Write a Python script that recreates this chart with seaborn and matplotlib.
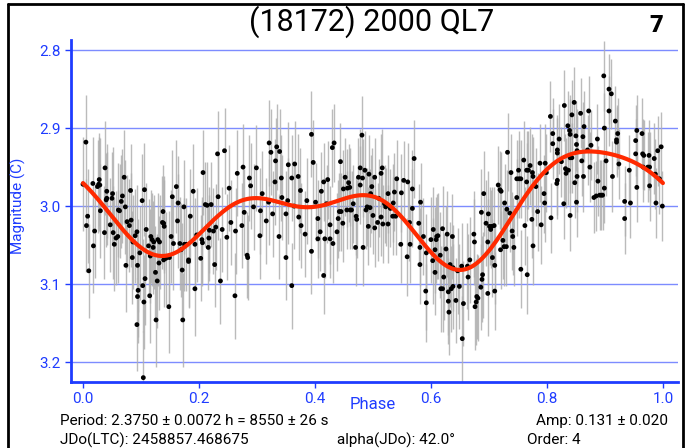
import numpy as np
import pandas as pd
import seaborn as sns
import matplotlib
matplotlib.use("Agg")
import matplotlib.pyplot as plt
from matplotlib.lines import Line2D

# ---- folded photometry: phase and reduced magnitude ----
phase_a = [0.000, 0.005, 0.006, 0.008, 0.010, 0.017, 0.018, 0.020, 0.025, 0.027, 0.028, 0.029, 0.030,
           0.037, 0.038, 0.041, 0.040, 0.041, 0.047, 0.050, 0.051, 0.052, 0.054, 0.057, 0.060, 0.061,
           0.063, 0.066, 0.068, 0.071, 0.073, 0.074, 0.076, 0.080, 0.082, 0.083, 0.086, 0.085, 0.090,
           0.093, 0.094, 0.094, 0.095, 0.093, 0.098, 0.102, 0.103, 0.105, 0.106, 0.107, 0.109, 0.113,
           0.115, 0.116, 0.117, 0.119, 0.121, 0.122, 0.125, 0.126, 0.128, 0.129, 0.131, 0.132, 0.138,
           0.137, 0.139, 0.140, 0.139, 0.143, 0.149, 0.148, 0.154, 0.152, 0.156, 0.161, 0.164, 0.163,
           0.167, 0.169, 0.171, 0.172, 0.174, 0.175, 0.178, 0.182, 0.182, 0.185, 0.104]
mag_a = [2.972, 2.918, 3.025, 3.013, 3.083, 2.971, 3.051, 3.032, 2.975, 2.972, 2.966, 2.973, 3.006,
         3.034, 2.951, 2.981, 2.992, 2.990, 3.024, 2.990, 2.984, 3.034, 3.049, 3.041, 3.039, 3.005,
         3.006, 2.994, 2.987, 2.963, 3.001, 3.076, 3.020, 3.025, 2.980, 3.018, 3.046, 3.066, 3.038,
         3.033, 3.076, 3.116, 3.108, 3.152, 3.060, 2.993, 3.102, 3.123, 2.979, 3.093, 3.030, 3.051,
         3.115, 3.064, 3.039, 3.043, 3.053, 3.046, 3.085, 3.146, 3.096, 3.043, 3.073, 3.046, 3.007,
         3.021, 3.022, 3.026, 3.069, 3.067, 3.066, 3.129, 2.988, 3.039, 3.048, 2.975, 2.996, 3.019,
         3.048, 3.056, 3.082, 3.146, 3.001, 3.049, 3.049, 3.069, 3.071, 3.013, 3.220]

phase_b = [0.190, 0.193, 0.193, 0.196, 0.203, 0.205, 0.206, 0.207, 0.211, 0.214, 0.216, 0.217, 0.218,
           0.221, 0.225, 0.227, 0.229, 0.232, 0.233, 0.237, 0.240, 0.244, 0.248, 0.252, 0.255, 0.262,
           0.263, 0.266, 0.274, 0.276, 0.278, 0.283, 0.284, 0.287, 0.289, 0.294, 0.299, 0.305, 0.306,
           0.309, 0.316, 0.320, 0.321, 0.324, 0.327, 0.331, 0.332, 0.334, 0.338, 0.339, 0.342, 0.343,
           0.350, 0.350, 0.353, 0.354, 0.360, 0.360, 0.365, 0.364, 0.371, 0.372, 0.375, 0.376, 0.383,
           0.386]
mag_b = [2.981, 3.049, 3.106, 3.037, 3.067, 3.043, 3.047, 2.957, 2.998, 2.999, 3.053, 3.041, 3.031,
         2.998, 3.032, 3.075, 3.027, 2.933, 2.988, 3.096, 3.030, 2.929, 3.040, 2.977, 3.021, 3.115,
         3.032, 2.958, 3.025, 2.950, 3.008, 3.063, 3.066, 2.964, 2.974, 3.001, 2.951, 3.038, 3.006,
         2.984, 3.019, 2.995, 2.919, 2.931, 3.010, 2.969, 2.942, 2.924, 3.039, 2.930, 2.964, 2.989,
         3.010, 3.066, 2.993, 2.947, 3.102, 2.964, 2.946, 3.000, 2.962, 3.014, 2.980, 3.025, 3.036,
         2.993]

phase_c = [0.394, 0.394, 0.397, 0.401, 0.405, 0.405, 0.409, 0.411, 0.415, 0.415, 0.417, 0.420, 0.422,
           0.426, 0.426, 0.430, 0.431, 0.433, 0.438, 0.440, 0.442, 0.444, 0.445, 0.448, 0.449, 0.452,
           0.455, 0.456, 0.458, 0.460, 0.461, 0.463, 0.466, 0.470, 0.471, 0.472, 0.475, 0.478, 0.478,
           0.481, 0.482, 0.483, 0.486, 0.488, 0.490, 0.492, 0.493, 0.495, 0.496, 0.498, 0.500, 0.503,
           0.503, 0.508, 0.510, 0.514, 0.514, 0.516, 0.517, 0.520, 0.522, 0.526, 0.526, 0.530, 0.534,
           0.535, 0.537, 0.539, 0.541, 0.548, 0.549, 0.553, 0.559, 0.560, 0.563, 0.564, 0.568, 0.568,
           0.571, 0.579, 0.581, 0.581, 0.582, 0.587, 0.592, 0.591, 0.592]
mag_c = [2.908, 3.058, 2.944, 2.995, 3.016, 3.042, 3.033, 2.981, 3.089, 2.969, 3.042, 2.997, 2.966,
         3.024, 3.042, 2.925, 3.048, 2.919, 3.033, 3.016, 3.007, 2.943, 3.007, 3.022, 2.978, 2.963,
         3.005, 2.977, 2.970, 2.976, 3.005, 3.005, 2.997, 3.053, 3.013, 3.017, 2.963, 2.973, 2.951,
         2.909, 2.964, 3.053, 2.954, 3.005, 3.001, 3.026, 2.959, 3.002, 2.984, 2.975, 3.012, 3.028,
         2.963, 3.021, 2.990, 2.958, 3.014, 2.951, 3.023, 2.997, 3.001, 3.023, 2.984, 3.003, 3.013,
         2.996, 2.982, 3.013, 2.965, 3.049, 2.983, 2.967, 3.065, 2.969, 3.021, 3.049, 2.978, 3.003,
         2.939, 3.022, 3.053, 3.075, 2.995, 3.039, 3.060, 3.109, 3.124]

phase_d = [0.600, 0.603, 0.604, 0.607, 0.607, 0.609, 0.610, 0.612, 0.616, 0.617, 0.620, 0.620, 0.622,
           0.626, 0.628, 0.630, 0.631, 0.630, 0.633, 0.635, 0.637, 0.638, 0.638, 0.643, 0.646, 0.649,
           0.653, 0.654, 0.656, 0.663, 0.664, 0.667, 0.674, 0.675, 0.676, 0.678, 0.679, 0.681, 0.686,
           0.687, 0.688, 0.689, 0.691, 0.695, 0.698, 0.698, 0.699, 0.701, 0.703, 0.705, 0.706, 0.709,
           0.710, 0.710, 0.716, 0.719, 0.721, 0.720, 0.724, 0.726, 0.727, 0.730, 0.732, 0.731, 0.736,
           0.738, 0.740, 0.741, 0.743, 0.748, 0.748, 0.751, 0.752, 0.755, 0.755, 0.760, 0.762, 0.765,
           0.766, 0.765, 0.768, 0.771, 0.774, 0.775, 0.776, 0.776, 0.781, 0.784, 0.788, 0.790, 0.795,
           0.796, 0.797]
mag_d = [3.043, 3.070, 3.030, 3.056, 3.085, 3.043, 3.039, 3.038, 3.063, 3.106, 3.106, 3.029, 3.091,
         3.055, 3.036, 3.110, 3.136, 3.122, 3.075, 3.106, 3.039, 3.079, 3.103, 3.121, 3.083, 3.103,
         3.077, 3.170, 3.125, 3.077, 3.091, 3.069, 3.036, 3.046, 3.129, 3.123, 3.116, 3.118, 3.104,
         3.008, 3.094, 3.088, 2.984, 3.022, 3.046, 3.112, 3.010, 3.026, 3.030, 3.026, 3.066, 3.025,
         3.076, 3.109, 2.973, 2.979, 2.981, 3.056, 3.044, 3.052, 2.996, 3.052, 2.931, 3.004, 3.009,
         2.957, 3.032, 3.039, 3.053, 2.989, 2.965, 2.954, 2.965, 2.965, 3.081, 2.941, 3.025, 2.954,
         3.088, 2.969, 2.954, 2.948, 3.017, 2.957, 2.962, 3.051, 2.975, 3.007, 2.945, 3.024, 2.984,
         2.996, 2.945]

phase_e = [0.799, 0.806, 0.807, 0.810, 0.810, 0.817, 0.818, 0.818, 0.818, 0.821, 0.825, 0.829, 0.830,
           0.832, 0.833, 0.836, 0.837, 0.839, 0.840, 0.840, 0.840, 0.843, 0.843, 0.847, 0.848, 0.850,
           0.851, 0.851, 0.852, 0.852, 0.858, 0.860, 0.862, 0.863, 0.864, 0.870, 0.872, 0.874, 0.876,
           0.881, 0.885, 0.887, 0.888, 0.891, 0.894, 0.896, 0.898, 0.899, 0.899, 0.902, 0.907, 0.907,
           0.911, 0.913, 0.918, 0.920, 0.920, 0.922, 0.924, 0.934, 0.934, 0.942, 0.944, 0.953, 0.953,
           0.955, 0.955, 0.964, 0.965, 0.966, 0.967, 0.974, 0.976, 0.977, 0.977, 0.985, 0.987, 0.988,
           0.991, 0.994, 0.997, 0.999]
mag_e = [2.957, 2.885, 3.015, 2.920, 2.907, 2.971, 2.928, 2.967, 2.932, 2.914, 2.943, 2.997, 2.871,
         2.952, 2.958, 2.897, 2.954, 2.903, 2.908, 2.938, 3.012, 2.883, 2.938, 2.867, 2.970, 2.910,
         2.921, 2.995, 2.929, 2.962, 2.881, 2.942, 2.911, 2.962, 2.898, 2.928, 2.878, 2.950, 2.922,
         2.989, 2.987, 2.914, 2.968, 2.986, 2.986, 2.986, 2.833, 2.900, 2.977, 2.942, 2.850, 2.878,
         2.856, 2.962, 2.891, 2.918, 2.915, 2.907, 2.946, 2.994, 3.016, 2.954, 2.996, 2.916, 2.933,
         2.903, 2.976, 2.907, 2.933, 2.950, 2.935, 2.950, 2.935, 2.974, 2.950, 2.939, 2.959, 2.996,
         2.929, 2.965, 2.924, 3.000]

# typical 1-sigma error per tenth of the rotation phase
err_by_tenth = [0.060, 0.060, 0.055, 0.055, 0.050, 0.050, 0.055, 0.050, 0.045, 0.045]

fourier_order = 4
title = "(18172) 2000 QL7"

phase = np.array(phase_a + phase_b + phase_c + phase_d + phase_e)
mag = np.array(mag_a + mag_b + mag_c + mag_d + mag_e)
err = np.array(err_by_tenth)[np.clip((phase * 10).astype(int), 0, 9)]
df = pd.DataFrame({"phase": phase, "mag": mag, "err": err})

# Fourier series fit of the folded curve
def design(p, order):
    cols = [np.ones_like(p)]
    for k in range(1, order + 1):
        cols.append(np.cos(2 * np.pi * k * p))
        cols.append(np.sin(2 * np.pi * k * p))
    return np.column_stack(cols)

coef, *_ = np.linalg.lstsq(design(phase, fourier_order), mag, rcond=None)
grid = np.linspace(0, 1, 400)
fit = pd.DataFrame({"phase": grid, "mag": design(grid, fourier_order) @ coef})

# ---- figure ----
sns.set_theme(style="white")
plt.rcParams["font.family"] = ["Roboto", "DejaVu Sans"]
plt.rcParams["text.color"] = "black"

W, H = 694, 448
fig = plt.figure(figsize=(W / 100, H / 100), dpi=100)
ax = fig.add_axes([71 / W, 1 - 382 / H, (678 - 71) / W, (382 - 40) / H])

blue = "#1f3cff"
grid_blue = "#7d8cff"

ax.vlines(df["phase"], df["mag"] - df["err"], df["mag"] + df["err"],
          colors="#b0b0b0", linewidth=1.0, alpha=0.85, zorder=2)
sns.scatterplot(data=df, x="phase", y="mag", ax=ax, color="black", s=12,
                edgecolor="none", zorder=3, legend=False)
sns.lineplot(data=fit, x="phase", y="mag", ax=ax, color="#ff2a00",
             linewidth=3, zorder=4)

ax.set_xlim(-0.0207, 1.026)
ax.set_ylim(3.2256, 2.787)
ax.set_yticks([2.8, 2.9, 3.0, 3.1, 3.2])
ax.set_xticks([0.0, 0.2, 0.4, 0.6, 0.8, 1.0])
ax.set_yticklabels(["2.8", "2.9", "3.0", "3.1", "3.2"])
ax.set_xticklabels(["0.0", "0.2", "0.4", "0.6", "0.8", "1.0"])
ax.yaxis.grid(True, color=grid_blue, linewidth=1.0)
ax.xaxis.grid(False)
ax.set_axisbelow(True)
ax.set_xlabel("")
ax.set_ylabel("")

for side in ("top", "right"):
    ax.spines[side].set_visible(False)
for side in ("left", "bottom"):
    ax.spines[side].set_color(blue)
    ax.spines[side].set_linewidth(2)
ax.tick_params(axis="both", colors=blue, labelcolor=blue, labelsize=11,
               length=4, width=1, direction="out", left=True, bottom=True)
ax.tick_params(axis="x", pad=3)

fig.text(18 / W, 1 - 206 / H, "Magnitude (C)", rotation=90, color=blue,
         fontsize=11, ha="center", va="center")
fig.text(373 / W, 1 - 404 / H, "Phase", color=blue, fontsize=12,
         ha="center", va="center")

fig.text(372 / W, 1 - 22 / H, title, fontsize=22, color="black",
         ha="center", va="center")
fig.text(663 / W, 1 - 25 / H, "7", fontsize=17, fontweight="heavy",
         color="black", ha="right", va="center")

info_color = "black"
fig.text(60 / W, 1 - 421 / H, "Period: 2.3750 \u00b1 0.0072 h = 8550 \u00b1 26 s",
         fontsize=11, color=info_color, ha="left", va="center")
fig.text(668 / W, 1 - 421 / H, "Amp: 0.131 \u00b1 0.020", fontsize=11,
         color=info_color, ha="right", va="center")
fig.text(60 / W, 1 - 440 / H, "JDo(LTC): 2458857.468675", fontsize=11,
         color=info_color, ha="left", va="center")
fig.text(337 / W, 1 - 440 / H, "alpha(JDo): 42.0\u00b0", fontsize=11,
         color=info_color, ha="left", va="center")
fig.text(527 / W, 1 - 440 / H, "Order: 4", fontsize=11, color=info_color,
         ha="left", va="center")

# outer frame (open at the bottom edge)
x0, x1, y0 = 8 / W, 683 / W, 1 - 4 / H
for xs, ys in (([x0, x1], [y0, y0]), ([x0, x0], [0, y0]), ([x1, x1], [0, y0])):
    fig.add_artist(Line2D(xs, ys, transform=fig.transFigure, color="black", linewidth=2))

fig.savefig("out.png", dpi=100)
